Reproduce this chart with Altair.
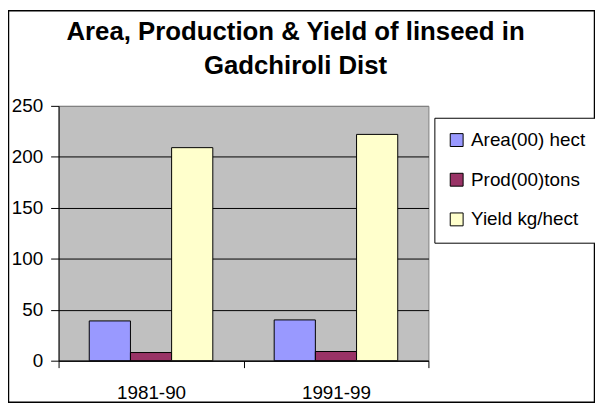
import altair as alt
import pandas as pd

periods = ["1981-90", "1991-99"]
series = ["Area(00) hect", "Prod(00)tons", "Yield kg/hect"]
area = [39, 40]
prod = [8, 9]
yield_ = [209, 222]
colors = ["#9999FF", "#993366", "#FFFFCC"]
y_ticks = [0, 50, 100, 150, 200, 250]
title_lines = ["Area, Production & Yield of linseed in", "Gadchiroli Dist"]

rows = []
for i, p in enumerate(periods):
    for s, vals in zip(series, [area, prod, yield_]):
        rows.append({"period": p, "series": s, "value": vals[i]})
df = pd.DataFrame(rows)

FONT = "Liberation Sans"

bars = alt.Chart(df).mark_bar(stroke="black", strokeWidth=1).encode(
    x=alt.X("period:N", sort=periods,
            scale=alt.Scale(paddingInner=0, paddingOuter=0),
            axis=alt.Axis(title=None, labelAngle=0, tickBand="extent", grid=False,
                          tickSize=7, labelPadding=16, labelFontSize=19,
                          labelFont=FONT, labelColor="black",
                          domainColor="black", tickColor="black")),
    xOffset=alt.XOffset("series:N", sort=series,
                        scale=alt.Scale(paddingOuter=0.745, paddingInner=0)),
    y=alt.Y("value:Q", scale=alt.Scale(domain=[0, 250], nice=False),
            axis=alt.Axis(title=None, values=y_ticks, tickSize=8, labelPadding=8,
                          labelFontSize=19, labelFont=FONT, labelColor="black",
                          domainColor="black", tickColor="black",
                          gridColor={"condition": {"test": "datum.value == 250", "value": "#808080"},
                                     "value": "black"},
                          gridOpacity=1)),
    color=alt.Color("series:N", sort=series,
                    scale=alt.Scale(domain=series, range=colors),
                    legend=alt.Legend(title=None, orient="none", legendX=379, legendY=12,
                                      strokeColor="black", fillColor="white",
                                      padding=13, symbolType="square", symbolSize=169,
                                      symbolStrokeColor="black", symbolStrokeWidth=1,
                                      symbolOpacity=1,
                                      labelFontSize=19, labelFont=FONT, labelColor="black",
                                      rowPadding=20, labelOffset=5)),
)

frame = alt.Chart(alt.Data(values=[{}])).mark_rect(
    fillOpacity=0, stroke="black", strokeWidth=1.5
).encode(
    x=alt.value(-50.5), x2=alt.value(540.5),
    y=alt.value(-96), y2=alt.value(299),
)

title1 = alt.Chart(alt.Data(values=[{}])).mark_text(
    text=title_lines[0], font=FONT, fontSize=26, fontWeight="bold",
    align="center", baseline="alphabetic", color="black"
).encode(x=alt.value(239), y=alt.value(-66))

title2 = alt.Chart(alt.Data(values=[{}])).mark_text(
    text=title_lines[1], font=FONT, fontSize=26, fontWeight="bold",
    align="center", baseline="alphabetic", color="black"
).encode(x=alt.value(239), y=alt.value(-32))

chart = alt.layer(bars, frame, title1, title2).properties(
    width=373, height=257,
    padding={"left": 51, "top": 97, "right": 168, "bottom": 43},
    autosize=alt.AutoSizeParams(type="none"),
).configure_view(fill="#C0C0C0", stroke="#808080", strokeWidth=1)

chart.save("out.html", embed_options={"renderer": "svg", "actions": False})
